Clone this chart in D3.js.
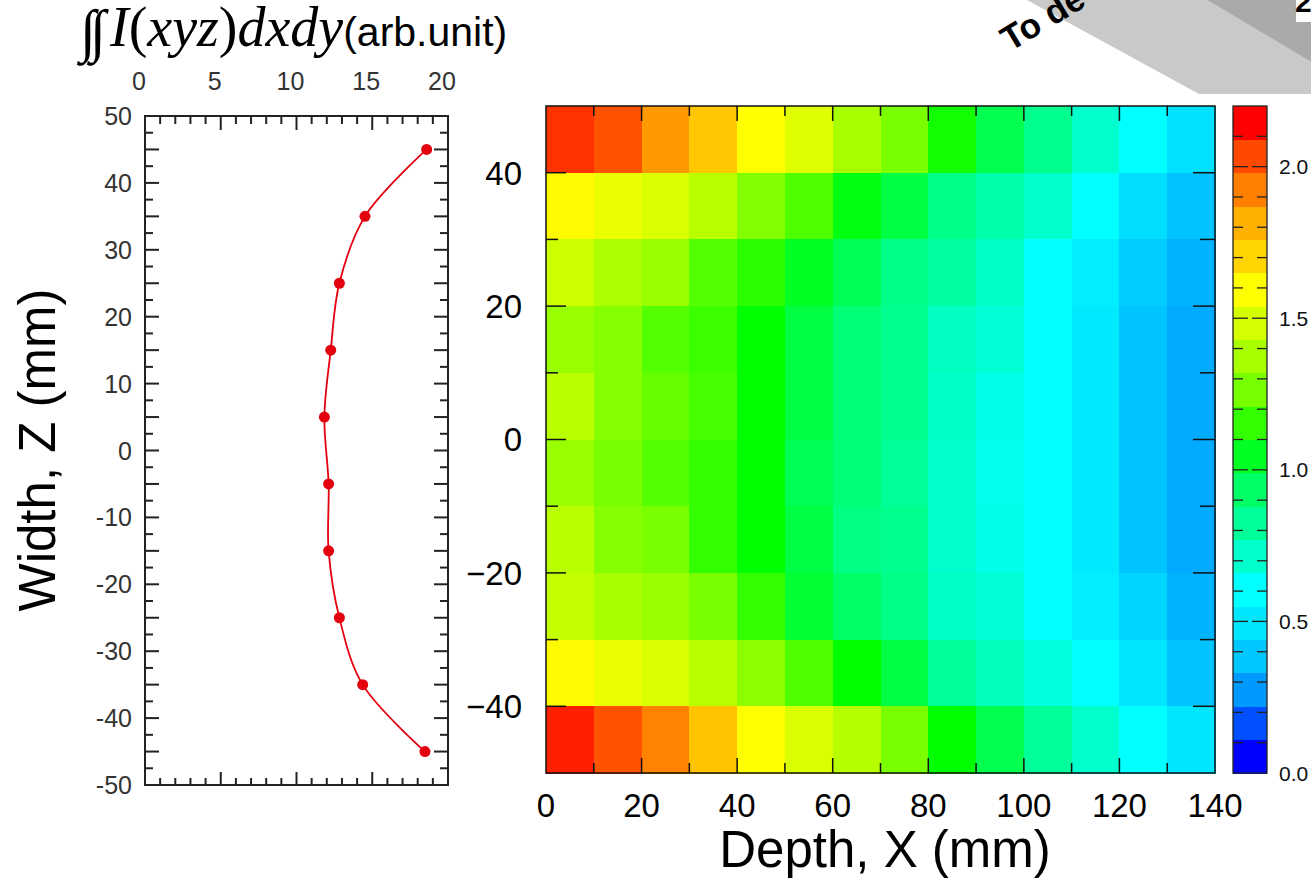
<!DOCTYPE html>
<html><head><meta charset="utf-8">
<script src="https://cdn.jsdelivr.net/npm/d3@7"></script>
<style>body{margin:0;background:#fff}svg{display:block}</style>
</head><body>
<svg id="c" width="1311" height="878"></svg>
<script>
// ---------------- data ----------------
const depthCenters = [5,15,25,35,45,55,65,75,85,95,105,115,125,135];
const widthCenters = [45,35,25,15,5,-5,-15,-25,-35,-45];
const rowZ45  = [2.04,1.97,1.82,1.72,1.60,1.53,1.41,1.31,1.09,0.91,0.80,0.69,0.60,0.53];
const rowZ35  = [1.61,1.56,1.52,1.45,1.33,1.22,1.02,0.93,0.81,0.75,0.69,0.60,0.52,0.46];
const rowZ25  = [1.49,1.42,1.38,1.23,1.14,0.99,0.90,0.81,0.77,0.70,0.60,0.56,0.48,0.42];
const rowZ15  = [1.38,1.34,1.23,1.18,1.05,0.93,0.84,0.80,0.71,0.67,0.60,0.55,0.46,0.40];
const rowZ5   = [1.45,1.34,1.27,1.20,1.05,0.93,0.84,0.80,0.70,0.64,0.60,0.55,0.46,0.40];
const rowZm5  = [1.38,1.31,1.23,1.16,1.05,0.90,0.84,0.78,0.69,0.63,0.60,0.55,0.46,0.40];
const rowZm15 = [1.45,1.34,1.31,1.16,1.05,0.93,0.82,0.80,0.69,0.64,0.60,0.55,0.46,0.40];
const rowZm25 = [1.47,1.41,1.38,1.31,1.16,0.96,0.87,0.81,0.70,0.67,0.60,0.56,0.50,0.42];
const rowZm35 = [1.61,1.56,1.52,1.45,1.35,1.22,1.05,0.93,0.78,0.72,0.66,0.60,0.54,0.46];
const rowZm45 = [2.08,1.97,1.87,1.73,1.60,1.52,1.44,1.31,1.05,0.91,0.78,0.69,0.60,0.54];
const intensityRows = [rowZ45,rowZ35,rowZ25,rowZ15,rowZ5,rowZm5,rowZm15,rowZm25,rowZm35,rowZm45];

const profileZ = [45,35,25,15,5,-5,-15,-25,-35,-45];
const profileI = [18.59,14.52,12.83,12.26,11.84,12.12,12.12,12.83,14.37,18.48];

const profileXTicks = [0,5,10,15,20];
const profileYTicks = [50,40,30,20,10,0,-10,-20,-30,-40,-50];
const heatXTicks = [0,20,40,60,80,100,120,140];
const heatYTicks = [40,20,0,-20,-40];
const colorbarTicks = [0,0.5,1.0,1.5,2.0];
const paletteColors = ["#0000ff","#0050ff","#0099ff","#00c8ff","#00e6ff","#00ffff","#00ffcc","#00ff99","#00ff66","#00ff22",
                       "#33ff00","#77ff00","#a8ff00","#d4ff00","#ffff00","#ffd400","#ffb000","#ff8000","#ff4800","#ff0000"];
const colorStops = [0,0.6,1.05,1.6,2.15];
const colorStopColors = ["#0000ff","#00ffff","#00ff00","#ffff00","#ff0000"];

// ---------------- drawing ----------------
const svg = d3.select("#c");
const SANS = "'Liberation Sans', Arial, Helvetica, sans-serif";
const SERIF = "'Liberation Serif', 'Times New Roman', serif";

// decoration at top right (cropped figure fragment)
const deco = svg.append("g");
deco.append("polygon").attr("points","1027,0 1207,0 1311,62 1311,94 1199,94").attr("fill","#c9c9c9");
deco.append("polygon").attr("points","1207,0 1311,0 1311,62").attr("fill","#aaaaaa");
deco.append("rect").attr("x",1296).attr("y",0).attr("width",15).attr("height",22).attr("fill","#fff");
deco.append("text").attr("x",1295).attr("y",12).attr("font-family",SANS).attr("font-weight","bold")
  .attr("font-size",30).attr("fill","#000").text("2");
deco.append("text").attr("transform","translate(1010,52) rotate(-31)").attr("font-family",SANS)
  .attr("font-weight","bold").attr("font-size",35).attr("fill","#000").text("To de");

// ---------- left profile plot ----------
const px = d3.scaleLinear([0,20],[145,448]);
const py = d3.scaleLinear([-50,50],[785,116]);
const gp = svg.append("g");
gp.append("rect").attr("x",px(0)).attr("y",py(50)).attr("width",px(20)-px(0)).attr("height",py(-50)-py(50))
  .attr("fill","none").attr("stroke","#222").attr("stroke-width",2);
const pyMinor = d3.range(-47.5,50,2.5);
gp.selectAll(".tyl").data(pyMinor).join("line")
  .attr("x1",px(0)).attr("x2",d=>px(0)+(d%5===0?14:8)).attr("y1",d=>py(d)).attr("y2",d=>py(d))
  .attr("stroke","#222").attr("stroke-width",2);
gp.selectAll(".tyr").data(pyMinor).join("line")
  .attr("x1",px(20)).attr("x2",d=>px(20)-(d%5===0?14:8)).attr("y1",d=>py(d)).attr("y2",d=>py(d))
  .attr("stroke","#222").attr("stroke-width",2);
const pxMinor = d3.range(1,20,1);
gp.selectAll(".txt").data(pxMinor).join("line")
  .attr("x1",d=>px(d)).attr("x2",d=>px(d)).attr("y1",py(50)).attr("y2",d=>py(50)+(d%5===0?14:8))
  .attr("stroke","#222").attr("stroke-width",2);
gp.selectAll(".txb").data(pxMinor).join("line")
  .attr("x1",d=>px(d)).attr("x2",d=>px(d)).attr("y1",py(-50)).attr("y2",d=>py(-50)-(d%5===0?13:7))
  .attr("stroke","#222").attr("stroke-width",2);
gp.selectAll(".ly").data(profileYTicks).join("text")
  .attr("x",px(0)-13).attr("y",d=>py(d)).attr("dy","0.36em").attr("text-anchor","end")
  .attr("font-family",SANS).attr("font-size",25).attr("fill","#333").text(d=>d);
gp.selectAll(".lx").data(profileXTicks).join("text")
  .attr("x",d=>px(d)-6).attr("y",90).attr("text-anchor","middle")
  .attr("font-family",SANS).attr("font-size",25).attr("fill","#333").text(d=>d);
const line = d3.line().x(d=>px(d[0])).y(d=>py(d[1])).curve(d3.curveCatmullRom);
const pts = profileZ.map((z,i)=>[profileI[i],z]);
gp.append("path").attr("d",line(pts)).attr("fill","none").attr("stroke","#e3000f").attr("stroke-width",1.8);
gp.selectAll("circle").data(pts).join("circle")
  .attr("cx",d=>px(d[0])).attr("cy",d=>py(d[1])).attr("r",5.5).attr("fill","#e3000f");

// title
svg.append("text").attr("x",80).attr("y",50).attr("font-family",SERIF).attr("font-size",58)
  .attr("letter-spacing",-6).attr("fill","#000").text("∫∫");
const tt = svg.append("text").attr("x",110).attr("y",46).attr("fill","#000");
tt.append("tspan").attr("font-family",SERIF).attr("font-size",56).attr("font-style","italic").text("I");
tt.append("tspan").attr("font-family",SERIF).attr("font-size",56).text("(");
tt.append("tspan").attr("font-family",SERIF).attr("font-size",56).attr("font-style","italic").text("xyz");
tt.append("tspan").attr("font-family",SERIF).attr("font-size",56).text(")");
tt.append("tspan").attr("font-family",SERIF).attr("font-size",56).attr("font-style","italic").text("dxdy");
tt.append("tspan").attr("font-family",SANS).attr("font-size",41).text("(arb.unit)");

// y title
svg.append("text").attr("transform","translate(55,450) rotate(-90)").attr("text-anchor","middle")
  .attr("font-family",SANS).attr("font-size",51).attr("fill","#000").text("Width, Z (mm)");

// ---------- heatmap ----------
const hx = d3.scaleLinear([0,140],[546,1215]);
const hy = d3.scaleLinear([-50,50],[773,106]);
const color = d3.scaleLinear().domain(colorStops).range(colorStopColors).clamp(true);
const gh = svg.append("g");
const cells = [];
intensityRows.forEach((row,r)=>row.forEach((v,c)=>cells.push({x:depthCenters[c],z:widthCenters[r],v})));
gh.selectAll("rect.cell").data(cells).join("rect").attr("class","cell")
  .attr("x",d=>hx(d.x-5)).attr("y",d=>hy(d.z+5))
  .attr("width",d=>hx(d.x+5)-hx(d.x-5)+0.5).attr("height",d=>hy(d.z-5)-hy(d.z+5)+0.5)
  .attr("fill",d=>color(d.v)).attr("shape-rendering","crispEdges");
gh.append("rect").attr("x",hx(0)).attr("y",hy(50)).attr("width",hx(140)-hx(0)).attr("height",hy(-50)-hy(50))
  .attr("fill","none").attr("stroke","#111").attr("stroke-width",1.5);
const hxT = d3.range(10,140,10);
gh.selectAll(".hxt").data(hxT).join("line")
  .attr("x1",d=>hx(d)).attr("x2",d=>hx(d)).attr("y1",hy(50)).attr("y2",d=>hy(50)+(d%20===0?15:10))
  .attr("stroke","#111").attr("stroke-width",1.5);
gh.selectAll(".hxb").data(hxT).join("line")
  .attr("x1",d=>hx(d)).attr("x2",d=>hx(d)).attr("y1",hy(-50)).attr("y2",d=>hy(-50)-(d%20===0?15:10))
  .attr("stroke","#111").attr("stroke-width",1.5);
const hyT = d3.range(-40,50,10);
gh.selectAll(".hyl").data(hyT).join("line")
  .attr("x1",hx(0)).attr("x2",d=>hx(0)+(d%20===0?20:12)).attr("y1",d=>hy(d)).attr("y2",d=>hy(d))
  .attr("stroke","#111").attr("stroke-width",1.5);
gh.selectAll(".hyr").data(hyT).join("line")
  .attr("x1",hx(140)).attr("x2",d=>hx(140)-(d%20===0?22:15)).attr("y1",d=>hy(d)).attr("y2",d=>hy(d))
  .attr("stroke","#111").attr("stroke-width",1.5);
const fmtMinus = d=> d<0 ? "\u2212"+Math.abs(d) : String(d);
gh.selectAll(".hyLab").data(heatYTicks).join("text")
  .attr("x",hx(0)-24).attr("y",d=>hy(d)).attr("dy","0.36em").attr("text-anchor","end")
  .attr("font-family",SANS).attr("font-size",33).attr("fill","#000").text(fmtMinus);
gh.selectAll(".hxLab").data(heatXTicks).join("text")
  .attr("x",d=>hx(d)).attr("y",817).attr("text-anchor","middle")
  .attr("font-family",SANS).attr("font-size",33).attr("fill","#000").text(d=>d);
svg.append("text").attr("x",885).attr("y",867).attr("text-anchor","middle")
  .attr("font-family",SANS).attr("font-size",51).attr("fill","#000").text("Depth, X (mm)");

// ---------- colorbar ----------
const cby = d3.scaleLinear([0,2.2],[773,106]);
const cbx0 = 1233, cbx1 = 1267;
const bandW = 2.2/paletteColors.length;
const gc = svg.append("g");
gc.selectAll("rect.band").data(paletteColors).join("rect").attr("class","band")
  .attr("x",cbx0).attr("width",cbx1-cbx0)
  .attr("y",(d,i)=>cby((i+1)*bandW)).attr("height",(d,i)=>cby(i*bandW)-cby((i+1)*bandW)+0.5)
  .attr("fill",d=>d).attr("shape-rendering","crispEdges");
const cbT = d3.range(1,22).map(i=>i/10);
const isMajor = d=>Math.abs(d*2-Math.round(d*2))<1e-6;
gc.selectAll(".cbl").data(cbT).join("line")
  .attr("x1",cbx0).attr("x2",d=>cbx0+(isMajor(d)?15:10)).attr("y1",d=>cby(d)).attr("y2",d=>cby(d))
  .attr("stroke","#222").attr("stroke-width",1.3);
gc.selectAll(".cbr").data(cbT).join("line")
  .attr("x1",cbx1).attr("x2",d=>cbx1-(isMajor(d)?15:10)).attr("y1",d=>cby(d)).attr("y2",d=>cby(d))
  .attr("stroke","#222").attr("stroke-width",1.3);
gc.append("rect").attr("x",cbx0).attr("y",cby(2.2)).attr("width",cbx1-cbx0).attr("height",cby(0)-cby(2.2))
  .attr("fill","none").attr("stroke","#222").attr("stroke-width",1.3);
gc.selectAll(".cbLab").data(colorbarTicks).join("text")
  .attr("x",1279).attr("y",d=>cby(d)).attr("dy","0.36em")
  .attr("font-family",SANS).attr("font-size",21).attr("fill","#111").text(d3.format(".1f"));
</script>
</body></html>
